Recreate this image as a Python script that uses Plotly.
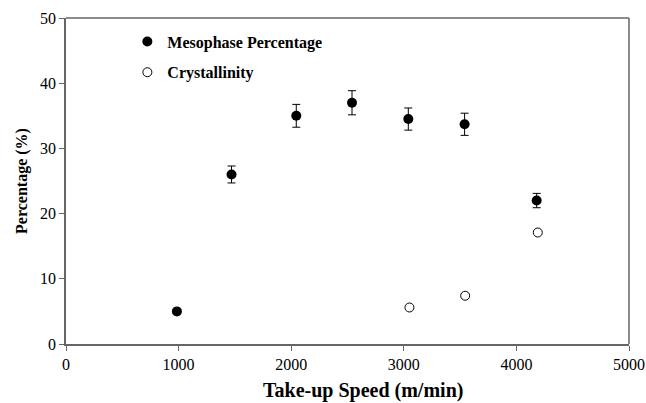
import plotly.graph_objects as go

speed_meso = [985, 1470, 2045, 2540, 3040, 3540, 4180]
meso_pct = [5.0, 26.0, 35.0, 37.0, 34.5, 33.7, 22.0]
meso_err = [0.3, 1.3, 1.75, 1.85, 1.7, 1.7, 1.1]

speed_cryst = [3050, 3545, 4190]
cryst_pct = [5.6, 7.4, 17.1]

x_ticks = [0, 1000, 2000, 3000, 4000, 5000]
y_ticks = [0, 10, 20, 30, 40, 50]

font_family = "Liberation Serif, Times New Roman, serif"

fig = go.Figure()
fig.add_trace(go.Scatter(
    x=speed_meso, y=meso_pct, mode="markers", name="<b>Mesophase Percentage</b>",
    legendgroup="a",
    marker=dict(symbol="circle", size=10, color="black"),
    error_y=dict(type="data", array=meso_err, visible=True, color="black", thickness=1, width=4),
))
fig.add_trace(go.Scatter(
    x=speed_cryst, y=cryst_pct, mode="markers", name="<b>Crystallinity</b>",
    legendgroup="b",
    marker=dict(symbol="circle-open", size=9, color="black", line=dict(width=1, color="black")),
))

axis_common = dict(
    showline=True, linecolor="#666", linewidth=1.5, mirror=False,
    ticks="outside", tickcolor="#666", ticklen=5, tickwidth=1,
    showgrid=False, zeroline=False, automargin=False,
    tickfont=dict(family=font_family, size=16, color="black"),
)

fig.update_layout(
    width=646, height=403,
    margin=dict(l=66, r=17, t=18, b=59),
    paper_bgcolor="white", plot_bgcolor="white",
    font=dict(family=font_family, color="black"),
    xaxis=dict(range=[0, 5000], tickvals=x_ticks, ticktext=[str(v) for v in x_ticks],
               **axis_common),
    yaxis=dict(range=[0, 50], tickvals=y_ticks, ticktext=[str(v) for v in y_ticks],
               title=dict(text="<b>Percentage (%)</b>", font=dict(size=16), standoff=8),
               **axis_common),
    legend=dict(x=0.109, y=0.98, xanchor="left", yanchor="top",
                font=dict(family=font_family, size=16, color="black"),
                bgcolor="rgba(0,0,0,0)", traceorder="grouped", tracegroupgap=7,
                itemwidth=30),
    annotations=[
        dict(text="<b>Take-up Speed (m/min)</b>", xref="paper", yref="paper",
             x=0.528, y=-0.1, xanchor="center", yanchor="top", showarrow=False,
             font=dict(family=font_family, size=20, color="black")),
    ],
    shapes=[
        dict(type="line", xref="paper", yref="paper", x0=0, x1=1, y0=1, y1=1,
             line=dict(color="#666", width=1.5)),
        dict(type="line", xref="paper", yref="paper", x0=1, x1=1, y0=0, y1=1,
             line=dict(color="#666", width=1.5)),
    ],
)

# remove the default 8px body margin so the 646x403 figure fills the window exactly
fig.write_html("out.html",
               config={"displayModeBar": False},
               post_script="document.body.style.margin='0';document.body.style.overflow='hidden';")
